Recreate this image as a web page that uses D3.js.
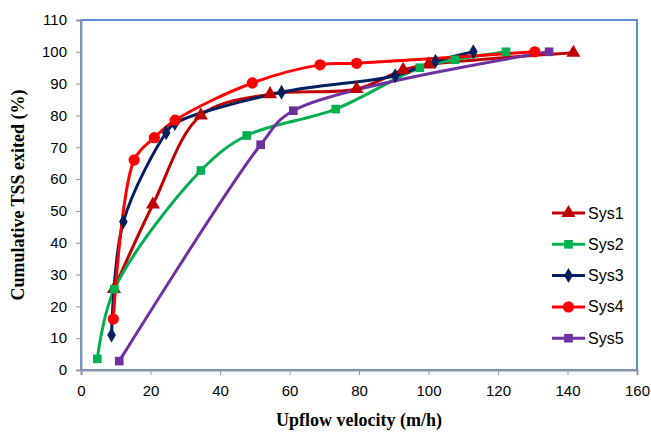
<!DOCTYPE html>
<html>
<head>
<meta charset="utf-8">
<script src="https://cdn.jsdelivr.net/npm/d3@7"></script>
<style>
  body { margin: 0; background: #fff; }
  text { font-family: "Liberation Sans", "Open Sans", sans-serif; }
</style>
</head>
<body>
<div id="chart"></div>
<script>
// series values
var seriesNames = ["Sys1", "Sys2", "Sys3", "Sys4", "Sys5"];
var sys1 = [[9.5, 25.5], [20.7, 52], [34.5, 80], [54.4, 86.7], [79.3, 88.3], [92.7, 94.3], [100, 96], [141.7, 99.7]];
var sys2 = [[4.7, 3.5], [9.6, 25.4], [34.5, 62.7], [47.7, 73.7], [73.3, 82], [97.5, 95], [107.6, 97.5], [122.3, 100]];
var sys3 = [[8.8, 11], [12.2, 46.6], [24.5, 74.6], [27, 77.5], [57.7, 87.3], [90.4, 92.5], [102, 97], [112.9, 100]];
var sys4 = [[9.3, 16], [15.3, 66], [21.1, 73], [27.1, 78.5], [49.3, 90.2], [68.8, 95.9], [79.3, 96.4], [130.6, 100]];
var sys5 = [[11, 2.8], [51.7, 70.8], [61.1, 81.5], [134.7, 100]];
var xTicks = [0, 20, 40, 60, 80, 100, 120, 140, 160];
var yTicks = [0, 10, 20, 30, 40, 50, 60, 70, 80, 90, 100, 110];

var colors = ["#C00000", "#00B050", "#002060", "#FF0000", "#7030A0"];
var symbols = [d3.symbolTriangle, d3.symbolSquare, d3.symbolDiamond, d3.symbolCircle, d3.symbolSquare];
var symSizes = [85, 75, 65, 100, 75];
var allData = [sys1, sys2, sys3, sys4, sys5];

var width = 651, height = 432;
var margin = {top: 20, right: 14, bottom: 62, left: 81};
var w = width - margin.left - margin.right,
    h = height - margin.top - margin.bottom;

var svg = d3.select("#chart").append("svg")
    .attr("width", width)
    .attr("height", height);

var g = svg.append("g")
    .attr("transform", "translate(" + margin.left + "," + margin.top + ")");

var x = d3.scaleLinear().domain([0, 160]).range([0, w]);
var y = d3.scaleLinear().domain([0, 110]).range([h, 0]);

// plot border
g.append("rect")
    .attr("x", 0).attr("y", 0)
    .attr("width", w).attr("height", h)
    .attr("fill", "none")
    .attr("stroke", "#5B8FD0")
    .attr("stroke-width", 2);

// axes
var xAxis = g.append("g")
    .attr("transform", "translate(0," + h + ")")
    .call(d3.axisBottom(x).tickValues(xTicks).tickSize(5).tickPadding(10));
var yAxis = g.append("g")
    .call(d3.axisLeft(y).tickValues(yTicks).tickSize(5).tickPadding(9));

[xAxis, yAxis].forEach(function (a) {
    a.select(".domain").attr("stroke", "#8A97A8").attr("stroke-width", 2);
    a.selectAll(".tick line").attr("stroke", "#8A97A8").attr("stroke-width", 1);
    a.selectAll(".tick text")
        .attr("fill", "#000")
        .style("font-size", "15px")
        .style("font-family", "'Liberation Sans', 'Open Sans', sans-serif");
});

// lines (smoothed like the spreadsheet)
var line = d3.line()
    .x(function (d) { return x(d[0]); })
    .y(function (d) { return y(d[1]); })
    .curve(d3.curveCatmullRom.alpha(0.5));

allData.forEach(function (data, i) {
    g.append("path")
        .datum(data)
        .attr("d", line)
        .attr("fill", "none")
        .attr("stroke", colors[i])
        .attr("stroke-width", 3);
});

allData.forEach(function (data, i) {
    g.selectAll(".m" + i).data(data).enter()
        .append("path")
        .attr("class", "m" + i)
        .attr("d", d3.symbol().type(symbols[i]).size(symSizes[i]))
        .attr("transform", function (d) { return "translate(" + x(d[0]) + "," + y(d[1]) + ")"; })
        .attr("fill", colors[i]);
});

// legend
var legend = svg.append("g");
seriesNames.forEach(function (name, i) {
    var ly = 213 + i * 31.3;
    legend.append("line")
        .attr("x1", 552).attr("x2", 585)
        .attr("y1", ly).attr("y2", ly)
        .attr("stroke", colors[i])
        .attr("stroke-width", 3);
    legend.append("path")
        .attr("d", d3.symbol().type(symbols[i]).size(symSizes[i]))
        .attr("transform", "translate(568.5," + ly + ")")
        .attr("fill", colors[i]);
    legend.append("text")
        .attr("x", 588).attr("y", ly + 5.5)
        .style("font-size", "16px")
        .text(name);
});

// axis titles
svg.append("text")
    .attr("x", margin.left + w / 2)
    .attr("y", 426)
    .attr("text-anchor", "middle")
    .style("font-family", "'Liberation Serif', 'DejaVu Serif', serif")
    .style("font-weight", "bold")
    .style("font-size", "18px")
    .text("Upflow velocity (m/h)");

svg.append("text")
    .attr("transform", "translate(24," + (margin.top + h / 2) + ") rotate(-90)")
    .attr("text-anchor", "middle")
    .style("font-family", "'Liberation Serif', 'DejaVu Serif', serif")
    .style("font-weight", "bold")
    .style("font-size", "18px")
    .text("Cumulative TSS exited (%)");
</script>
</body>
</html>
